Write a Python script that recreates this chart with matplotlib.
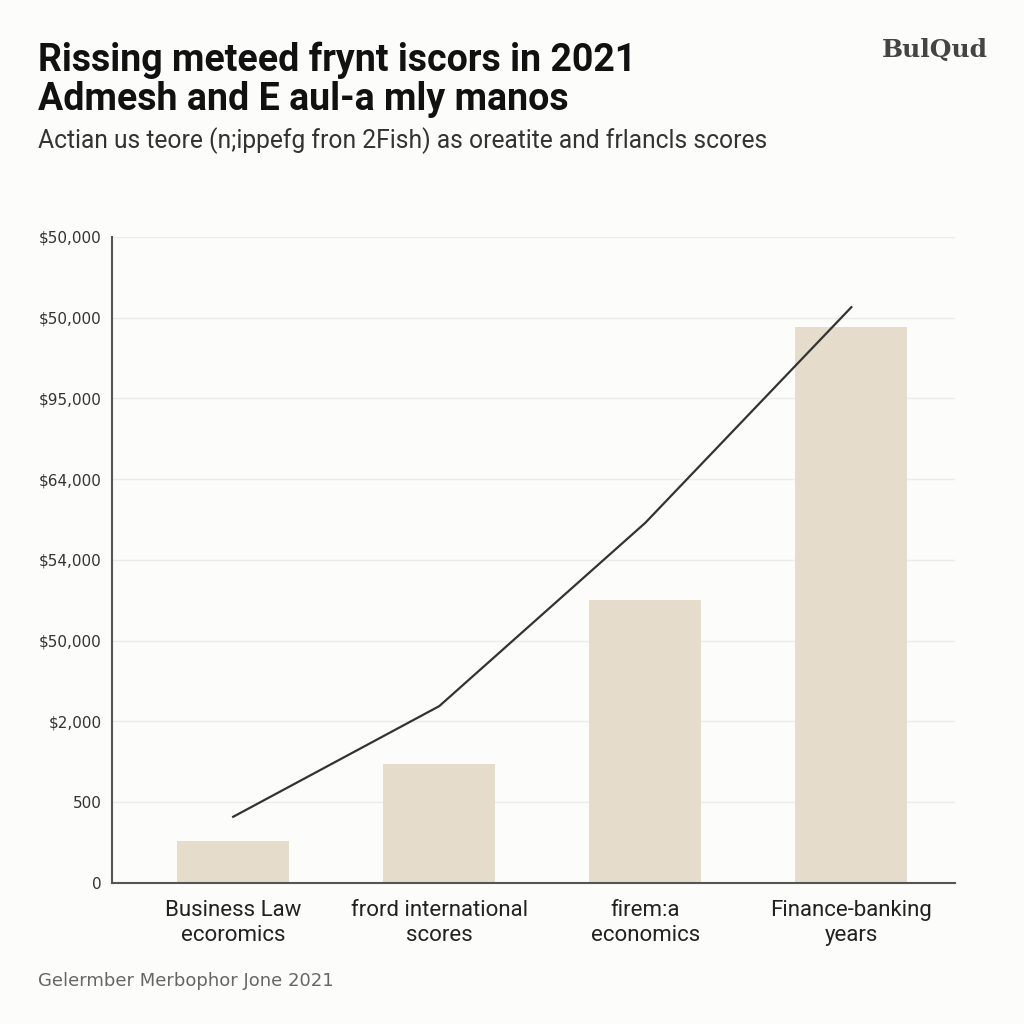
import numpy as np
import matplotlib.pyplot as plt

# -----------------------------
# Data
# -----------------------------
categories = ["Business Law\necoromics", "frord international\nscores",
              "firem:a\neconomics", "Finance-banking\nyears"]
bar_values = [0.52, 1.47, 3.50, 6.89]
line_values = [0.82, 2.19, 4.46, 7.13]
ytick_labels = ["0", "500", "$2,000", "$50,000", "$54,000",
                "$64,000", "$95,000", "$50,000", "$50,000"]

title = "Rissing meteed frynt iscors in 2021\nAdmesh and E aul-a mly manos"
subtitle = "Actian us teore (n;ippefg fron 2Fish) as oreatite and frlancls scores"
footer = "Gelermber Merbophor Jone 2021"
logo = "BulQud"

# -----------------------------
# Figure
# -----------------------------
fig = plt.figure(figsize=(10.24, 10.24), dpi=100)
fig.patch.set_facecolor("#fcfcfb")
ax = fig.add_axes([0.109, 0.1377, 0.824, 0.6309])
ax.set_facecolor("#fcfcfb")

x = np.arange(len(categories))
ax.bar(x, bar_values, width=0.545, color="#e5dccb", zorder=2)
ax.plot(x, line_values, color="#333333", linewidth=1.6, zorder=3)

ax.set_xlim(-0.59, 3.505)
ax.set_ylim(0, 8)
ax.set_yticks(range(len(ytick_labels)))
ax.set_yticklabels(ytick_labels, fontsize=11, color="#333333")
ax.set_xticks(x)
ax.set_xticklabels(categories, fontsize=16, family="Roboto", color="#222222",
                   linespacing=1.3)
ax.tick_params(axis="y", length=0, pad=7)
ax.tick_params(axis="x", length=0, pad=12)

ax.grid(axis="y", color="#ececec", linewidth=1, zorder=0)
for s in ["top", "right"]:
    ax.spines[s].set_visible(False)
for s in ["left", "bottom"]:
    ax.spines[s].set_color("#555555")
    ax.spines[s].set_linewidth(1.5)

# -----------------------------
# Text
# -----------------------------
fig.text(0.037, 0.959, title, fontsize=27, family="Roboto", fontweight="bold",
         color="#111111", va="top", ha="left", linespacing=1.06)
fig.text(0.037, 0.863, subtitle, fontsize=17.7, family="Roboto", color="#333333",
         va="center", ha="left")
fig.text(0.037, 0.042, footer, fontsize=13, color="#666666", va="center", ha="left")
fig.text(0.965, 0.951, logo, fontsize=18, family="DejaVu Serif", fontweight="bold",
         color="#444444", va="center", ha="right")

fig.savefig("out.png", dpi=100, facecolor=fig.get_facecolor())
